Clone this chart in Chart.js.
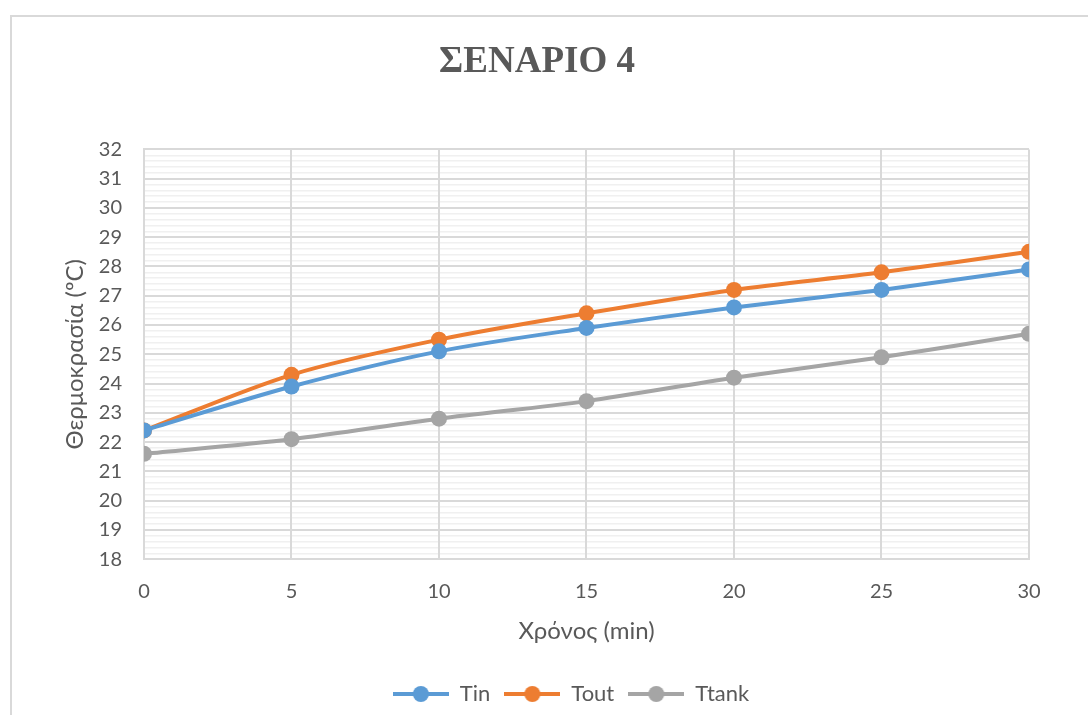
<!DOCTYPE html>
<html lang="el">
<head>
    <meta charset="UTF-8">
    <title>ΣΕΝΑΡΙΟ 4</title>
    <script src="https://cdn.jsdelivr.net/npm/chart.js"></script>
    <style>
        body { margin: 0; background: #fff; overflow: hidden; }
        #wrap { position: relative; width: 1088px; height: 715px; }
        #frame {
            position: absolute; left: 10px; top: 15px; width: 1200px; height: 800px;
            border-left: 2px solid #d9d9d9; border-top: 2px solid #d9d9d9;
        }
        canvas { position: absolute; left: 0; top: 0; }
    </style>
</head>
<body>
<div id="wrap">
    <div id="frame"></div>
    <canvas id="chart" width="1088" height="715"></canvas>
</div>
<script>
    // δεδομένα
    const times = [0, 5, 10, 15, 20, 25, 30];
    const tIn = [22.4, 23.9, 25.1, 25.9, 26.6, 27.2, 27.9];
    const tOut = [22.4, 24.3, 25.5, 26.4, 27.2, 27.8, 28.5];
    const tTank = [21.6, 22.1, 22.8, 23.4, 24.2, 24.9, 25.7];
    const names = ['Tin', 'Tout', 'Ttank'];
    const colors = ['#5B9BD5', '#ED7D31', '#A5A5A5'];

    const textColor = '#595959';
    const isMajor = v => Math.abs(v - Math.round(v)) < 1e-6;

    // εικονίδιο υπομνήματος: γραμμή με κύκλο
    function legendIcon(color) {
        const c = document.createElement('canvas');
        c.width = 56; c.height = 18;
        const g = c.getContext('2d');
        g.strokeStyle = color; g.lineWidth = 4;
        g.beginPath(); g.moveTo(0, 9); g.lineTo(56, 9); g.stroke();
        g.fillStyle = color;
        g.beginPath(); g.arc(28, 9, 8, 0, Math.PI * 2); g.fill();
        return c;
    }

    const series = [tIn, tOut, tTank];
    const datasets = series.map((vals, i) => ({
        label: names[i],
        data: times.map((t, k) => ({ x: t, y: vals[k] })),
        borderColor: colors[i],
        backgroundColor: colors[i],
        borderWidth: 4,
        pointRadius: 8,
        pointHoverRadius: 8,
        pointBorderWidth: 0,
        tension: 0.3,
        pointStyle: 'circle',
        legendStyle: legendIcon(colors[i])
    }));

    // μετακίνηση τίτλου και υπομνήματος ώστε να κεντράρονται όπως στο πρωτότυπο
    const blockShift = {
        id: 'blockShift',
        afterLayout(chart) {
            const lg = chart.legend;
            lg.left += 26; lg.right += 26;
            if (lg.legendHitBoxes) lg.legendHitBoxes.forEach(h => { h.left += 26; });
            const tb = chart.titleBlock;
            tb.left -= 8; tb.right -= 8;
        }
    };

    new Chart(document.getElementById('chart').getContext('2d'), {
        type: 'line',
        data: { datasets },
        options: {
            responsive: false,
            animation: false,
            layout: { padding: { left: 61, right: 59, top: 0, bottom: 0 } },
            plugins: {
                title: {
                    display: true,
                    text: 'ΣΕΝΑΡΙΟ 4',
                    color: textColor,
                    font: { family: 'Liberation Serif', size: 37, weight: 'bold' },
                    padding: { top: 40, bottom: 65 }
                },
                legend: {
                    position: 'bottom',
                    labels: {
                        usePointStyle: true,
                        pointStyleWidth: 56,
                        boxHeight: 18,
                        color: textColor,
                        font: { family: 'Lato', size: 22 },
                        padding: 14,
                        generateLabels(chart) {
                            return chart.data.datasets.map((d, i) => ({
                                text: d.label,
                                pointStyle: d.legendStyle,
                                fillStyle: d.borderColor,
                                strokeStyle: d.borderColor,
                                lineWidth: 0,
                                fontColor: textColor,
                                datasetIndex: i
                            }));
                        }
                    }
                },
                tooltip: { enabled: false }
            },
            scales: {
                x: {
                    type: 'linear',
                    min: 0, max: 30,
                    ticks: { stepSize: 5, color: textColor, font: { family: 'Lato', size: 20 }, padding: 20 },
                    grid: { color: '#d9d9d9', lineWidth: 2, drawTicks: false, z: -1 },
                    border: { color: '#d9d9d9', width: 2 },
                    title: { display: true, text: 'Χρόνος (min)', color: textColor, font: { family: 'Lato', size: 24 }, padding: { top: -6, bottom: 23 } }
                },
                y: {
                    min: 18, max: 32,
                    afterBuildTicks(scale) {
                        const t = [];
                        for (let k = 0; k <= 70; k++) t.push({ value: 18 + k * 0.2 });
                        scale.ticks = t;
                    },
                    ticks: {
                        autoSkip: false,
                        color: textColor,
                        font: { family: 'Lato', size: 20 },
                        padding: 22,
                        callback: v => isMajor(v) ? String(Math.round(v)) : ''
                    },
                    grid: {
                        drawTicks: false,
                        z: -2,
                        color: ctx => isMajor(ctx.tick.value) ? '#d9d9d9' : '#f0f0f0',
                        lineWidth: ctx => isMajor(ctx.tick.value) ? 2 : 1.5
                    },
                    border: { color: '#d9d9d9', width: 2 },
                    title: { display: true, text: 'Θερμοκρασία (ºC)', color: textColor, font: { family: 'Lato', size: 24 }, padding: { top: 0, bottom: -13 } }
                }
            }
        },
        plugins: [blockShift]
    });
</script>
</body>
</html>
